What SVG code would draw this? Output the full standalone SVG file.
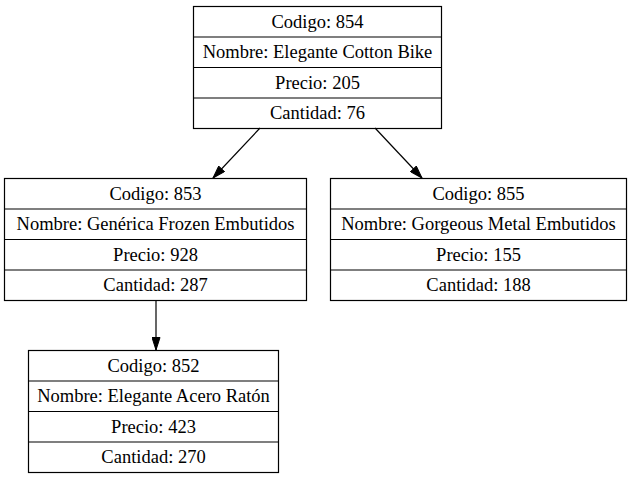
<svg xmlns="http://www.w3.org/2000/svg" width="635" height="479" viewBox="0 0 635 479">
<style>
.box{fill:none;stroke:#000;stroke-width:1.2}
.t{font-family:"Liberation Serif","Times New Roman",serif;font-size:18.5px;text-anchor:middle;fill:#000}
.e{stroke:#000;stroke-width:1.2;fill:none}
</style>
<defs>
<marker id="ah" markerWidth="13" markerHeight="9" refX="13" refY="4.5" orient="auto" markerUnits="userSpaceOnUse">
<path d="M0.5,0.5 L13,4.5 L0.5,8.5 Z" fill="#000" stroke="#000" stroke-width="1"/>
</marker>
</defs>
<rect width="635" height="479" fill="#fff"/>
<g id="connectors">
<line class="e" x1="260" y1="128" x2="213" y2="178" marker-end="url(#ah)"/>
<line class="e" x1="375" y1="128" x2="422" y2="178" marker-end="url(#ah)"/>
<line class="e" x1="156" y1="300" x2="156" y2="350" marker-end="url(#ah)"/>
</g>
<g id="n854">
<rect class="box" x="193.5" y="6.5" width="248" height="122"/>
<line class="box" x1="193.5" y1="37" x2="441.5" y2="37"/>
<line class="box" x1="193.5" y1="67.5" x2="441.5" y2="67.5"/>
<line class="box" x1="193.5" y1="98" x2="441.5" y2="98"/>
<text class="t" x="317.5" y="27.5">Codigo: 854</text>
<text class="t" x="317.5" y="58">Nombre: Elegante Cotton Bike</text>
<text class="t" x="317.5" y="88.5">Precio: 205</text>
<text class="t" x="317.5" y="119">Cantidad: 76</text>
</g>
<g id="n853">
<rect class="box" x="4.5" y="178.5" width="302" height="122"/>
<line class="box" x1="4.5" y1="209" x2="306.5" y2="209"/>
<line class="box" x1="4.5" y1="239.5" x2="306.5" y2="239.5"/>
<line class="box" x1="4.5" y1="270" x2="306.5" y2="270"/>
<text class="t" x="155.5" y="199.5">Codigo: 853</text>
<text class="t" x="155.5" y="230">Nombre: Genérica Frozen Embutidos</text>
<text class="t" x="155.5" y="260.5">Precio: 928</text>
<text class="t" x="155.5" y="291">Cantidad: 287</text>
</g>
<g id="n855">
<rect class="box" x="330.5" y="178.5" width="296" height="122"/>
<line class="box" x1="330.5" y1="209" x2="626.5" y2="209"/>
<line class="box" x1="330.5" y1="239.5" x2="626.5" y2="239.5"/>
<line class="box" x1="330.5" y1="270" x2="626.5" y2="270"/>
<text class="t" x="478.5" y="199.5">Codigo: 855</text>
<text class="t" x="478.5" y="230">Nombre: Gorgeous Metal Embutidos</text>
<text class="t" x="478.5" y="260.5">Precio: 155</text>
<text class="t" x="478.5" y="291">Cantidad: 188</text>
</g>
<g id="n852">
<rect class="box" x="28.5" y="350.5" width="250" height="122"/>
<line class="box" x1="28.5" y1="381" x2="278.5" y2="381"/>
<line class="box" x1="28.5" y1="411.5" x2="278.5" y2="411.5"/>
<line class="box" x1="28.5" y1="442" x2="278.5" y2="442"/>
<text class="t" x="153.5" y="371.5">Codigo: 852</text>
<text class="t" x="153.5" y="402">Nombre: Elegante Acero Ratón</text>
<text class="t" x="153.5" y="432.5">Precio: 423</text>
<text class="t" x="153.5" y="463">Cantidad: 270</text>
</g>
</svg>
